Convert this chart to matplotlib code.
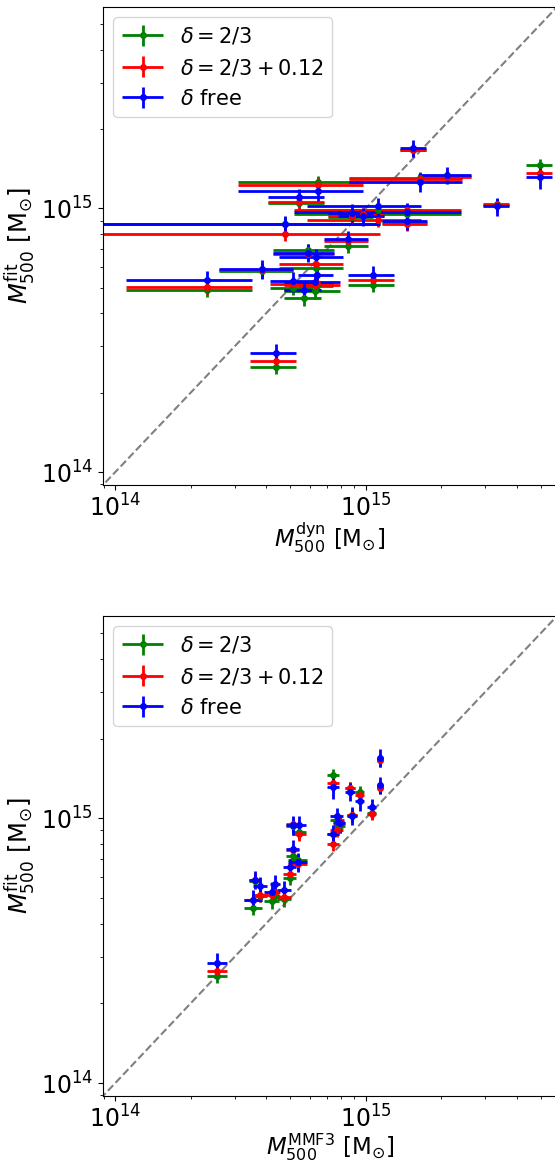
import matplotlib
matplotlib.use("Agg")
import matplotlib.pyplot as plt
from matplotlib.legend_handler import HandlerErrorbar
from matplotlib.container import ErrorbarContainer
import numpy as np

# ---------------- data (units of 1e14 Msun) ----------------
# top panel: dynamical masses
dyn_x    = [15.5, 49.6, 33.3, 21.2, 16.4, 6.43, 5.44, 4.76, 2.32, 3.87, 4.375, 10.73,
            8.53, 5.87, 6.32, 6.38, 6.30, 5.675, 5.145, 8.85, 9.79, 11.23, 14.58, 14.58]
dyn_xerr = [1.85, 6.0, 3.9, 5.0, 7.8, 3.35, 1.38, 6.64, 1.21, 1.28, 0.92, 2.2,
            1.71, 1.6, 1.8, 1.02, 1.6, 0.97, 1.0, 1.8, 2.0, 5.4, 9.4, 3.0]
dyn_g = [16.7, 14.55, 10.35, 13.26, 13.03, 12.58, 10.48, 8.75, 4.92, 5.80, 2.51, 5.14,
         7.20, 6.93, 5.96, 5.07, 4.85, 4.57, 5.01, 9.27, 9.33, 9.83, 9.55, 8.80]
dyn_r = [16.6, 13.57, 10.27, 13.14, 12.88, 12.29, 10.54, 8.02, 5.03, 5.84, 2.63, 5.37,
         7.52, 6.74, 6.17, 5.22, 5.14, 4.89, 5.19, 9.33, 9.55, 9.06, 9.88, 8.70]
dyn_b = [16.9, 13.14, 10.18, 13.41, 12.58, 11.63, 11.04, 8.70, 5.34, 5.88, 2.82, 5.58,
         7.63, 6.79, 6.54, 5.58, 5.26, 4.89, 5.29, 9.60, 9.33, 10.18, 9.69, 9.00]
dyn_ge = [0.9, 0.85, 0.55, 0.7, 0.7, 0.7, 0.6, 0.5, 0.3, 0.35, 0.15, 0.3,
          0.4, 0.4, 0.35, 0.3, 0.3, 0.3, 0.3, 0.5, 0.5, 0.55, 0.5, 0.5]
dyn_re = [0.9, 0.8, 0.55, 0.7, 0.7, 0.7, 0.6, 0.5, 0.3, 0.35, 0.15, 0.3,
          0.4, 0.4, 0.35, 0.3, 0.3, 0.3, 0.3, 0.5, 0.5, 0.55, 0.5, 0.5]
dyn_be = [1.3, 1.3, 0.8, 1.0, 1.0, 0.95, 0.8, 0.7, 0.45, 0.5, 0.25, 0.45,
          0.6, 0.55, 0.5, 0.45, 0.45, 0.4, 0.45, 0.75, 0.75, 0.8, 0.75, 0.7]

# bottom panel: MMF3 masses
mmf_x    = [11.41, 11.41, 7.43, 8.66, 9.49, 10.57, 8.80, 7.43, 7.66, 7.78, 5.11, 5.44,
            5.11, 5.36, 4.99, 2.56, 3.62, 3.56, 3.79, 4.22, 4.35, 4.74, 7.90]
mmf_xerr = [0.25, 0.25, 0.42, 0.4, 0.4, 0.45, 0.4, 0.4, 0.45, 0.4, 0.3, 0.35,
            0.3, 0.45, 0.3, 0.23, 0.2, 0.3, 0.25, 0.3, 0.2, 0.3, 0.4]
mmf_g = [16.64, 13.15, 14.54, 13.03, 12.59, 10.50, 10.26, 8.76, 9.83, 9.55, 9.33, 8.84,
         7.23, 6.96, 5.94, 2.53, 5.82, 4.60, 5.11, 4.86, 5.11, 4.94, 9.33]
mmf_r = [16.55, 13.03, 13.53, 12.96, 12.23, 10.41, 10.26, 8.01, 9.07, 9.89, 9.55, 8.71,
         7.56, 6.72, 6.17, 2.65, 5.85, 4.90, 5.14, 5.14, 5.29, 5.04, 9.63]
mmf_b = [16.89, 13.30, 13.11, 12.59, 11.61, 11.06, 10.20, 8.71, 10.17, 9.69, 9.41, 9.41,
         7.65, 6.82, 6.53, 2.84, 5.87, 4.90, 5.57, 5.29, 5.66, 5.34, 9.58]
mmf_ge = [0.9, 0.7, 0.85, 0.7, 0.7, 0.6, 0.6, 0.5, 0.55, 0.5, 0.5, 0.5,
          0.4, 0.4, 0.35, 0.15, 0.35, 0.3, 0.3, 0.3, 0.3, 0.3, 0.5]
mmf_re = [0.9, 0.7, 0.8, 0.7, 0.7, 0.6, 0.6, 0.5, 0.55, 0.5, 0.5, 0.5,
          0.4, 0.4, 0.35, 0.15, 0.35, 0.3, 0.3, 0.3, 0.3, 0.3, 0.5]
mmf_be = [1.3, 1.0, 1.3, 1.0, 0.95, 0.8, 0.8, 0.7, 0.8, 0.75, 0.75, 0.75,
          0.6, 0.55, 0.5, 0.25, 0.45, 0.45, 0.45, 0.45, 0.45, 0.45, 0.75]

labels = [r"$\delta = 2/3$", r"$\delta = 2/3 + 0.12$", r"$\delta$ free"]
colors = ["green", "red", "blue"]
xlabels = [r"$M_{500}^{\rm dyn}$ [M$_{\odot}$]", r"$M_{500}^{\rm MMF3}$ [M$_{\odot}$]"]
ylabel = r"$M_{500}^{\rm fit}$ [M$_{\odot}$]"
lims = (8.95e13, 5.8e15)
unit = 1e14

fig = plt.figure(figsize=(5.55, 11.62), dpi=100)
W, H = 555.0, 1162.0
ax1 = fig.add_axes([103 / W, 1 - 485 / H, 454 / W, 478 / H])
ax2 = fig.add_axes([103 / W, 1 - 1096 / H, 454 / W, 480 / H])

panels = [
    (ax1, dyn_x, dyn_xerr, [dyn_g, dyn_r, dyn_b], [dyn_ge, dyn_re, dyn_be], xlabels[0]),
    (ax2, mmf_x, mmf_xerr, [mmf_g, mmf_r, mmf_b], [mmf_ge, mmf_re, mmf_be], xlabels[1]),
]

for ax, xs, xe, ys, yes, xl in panels:
    x = np.array(xs) * unit
    xerr = np.array(xe) * unit
    for yv, ye, c, lab in zip(ys, yes, colors, labels):
        ax.errorbar(x, np.array(yv) * unit, xerr=xerr, yerr=np.array(ye) * unit,
                    fmt="o", color=c, ecolor=c, markersize=4, elinewidth=2,
                    capsize=0, label=lab)
    ax.plot([1e13, 1e16], [1e13, 1e16], ls="--", color="gray", lw=1.5, zorder=0)
    ax.set_xscale("log")
    ax.set_yscale("log")
    ax.set_xlim(*lims)
    ax.set_ylim(*lims)
    ax.tick_params(axis="both", which="major", labelsize=17)
    ax.set_xlabel(xl, fontsize=16.5, labelpad=-1)
    ax.set_ylabel(ylabel, fontsize=17.5, labelpad=2)
    ax.legend(loc="upper left", fontsize=15,
              handler_map={ErrorbarContainer: HandlerErrorbar(xerr_size=1.0, yerr_size=0.5)})

fig.savefig("out.png", dpi=100)
